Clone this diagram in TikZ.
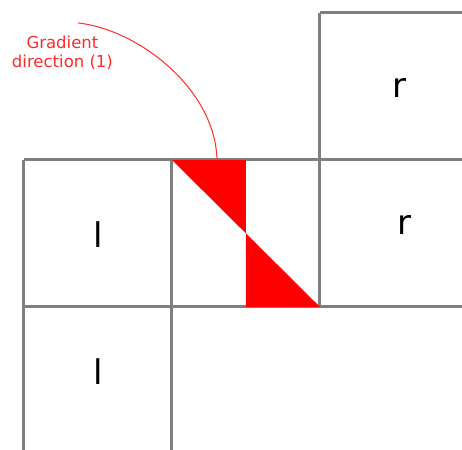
\documentclass[tikz,border=0pt]{standalone}
\usepackage{fontspec}
\setmainfont{DejaVu Sans}
\usepackage{xcolor}
\definecolor{gridgray}{HTML}{7F7F7F}
\definecolor{notered}{HTML}{FF2A2A}

\begin{document}
\begin{tikzpicture}[x=148pt,y=147pt,
  gridline/.style={draw=gridgray,line width=3pt},
  cell/.style={font=\fontsize{34}{40}\selectfont},
  note/.style={text=notered,align=center,font=\fontsize{16.5}{19}\selectfont}]
\useasboundingbox[fill=white] (-0.162,0.027) rectangle (2.96,3.088);
% Grid lines
\draw[gridline] (0,2) -- (2.96,2);
\draw[gridline] (0,1) -- (2.96,1);
\draw[gridline] (2,3) -- (2.96,3);
\foreach \x in {0,1} \draw[gridline] (\x,0.027) -- (\x,2);
\draw[gridline] (2,1) -- (2,3);

% Red triangles
\fill[red] (1,2) -- (1.5,2) -- (1.5,1.5) -- cycle;
\fill[red] (1.5,1.5) -- (1.5,1) -- (2,1) -- cycle;

% Cell labels
\node[cell] (lup) at (0.5,1.49) {l};
\node[cell] (ldown) at (0.5,0.558) {l};
\node[cell] (rup) at (2.54,2.49) {r};
\node[cell] (rdown) at (2.57,1.558) {r};

% Gradient note
\node[note] (grad) at (0.26,2.73) {Gradient\\direction (1)};
\coordinate (gradstart) at (0.365,2.932);
\coordinate (gradend) at (1.304,2.007);
\draw[notered,line width=1pt] (gradstart) .. controls (0.784,2.884) and (1.29,2.476) .. (gradend);
\end{tikzpicture}
\end{document}
